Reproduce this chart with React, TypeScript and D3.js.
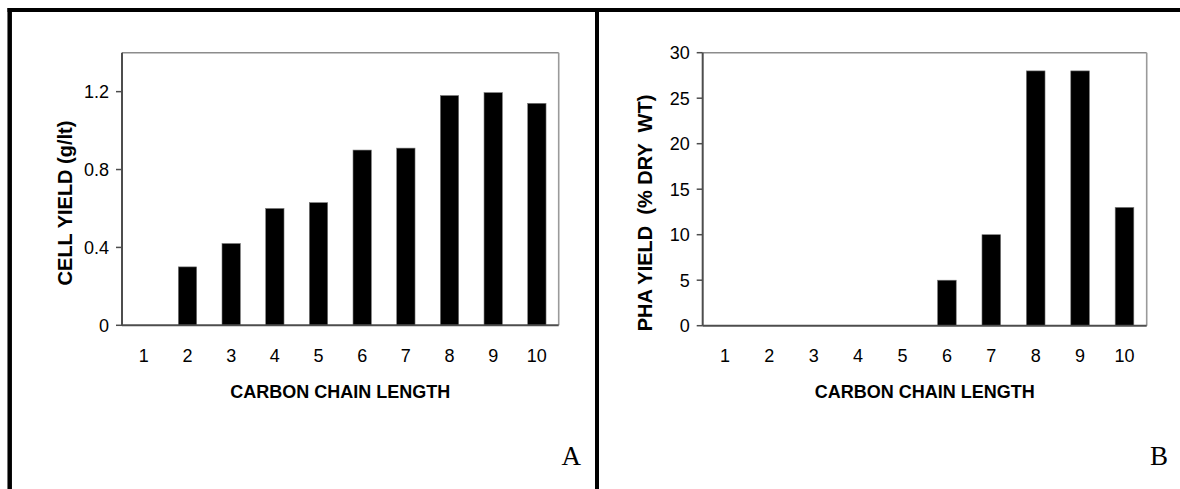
import React from "react";
import * as d3 from "d3";

const categories = ["1", "2", "3", "4", "5", "6", "7", "8", "9", "10"];
const cellYield = [0, 0.3, 0.42, 0.6, 0.63, 0.9, 0.91, 1.18, 1.195, 1.14];
const phaYield = [0, 0, 0, 0, 0, 5, 10, 28, 28, 13];
const cellTicks = [0, 0.4, 0.8, 1.2];
const phaTicks = [0, 5, 10, 15, 20, 25, 30];

const W = 1180;
const H = 489;

type PanelProps = {
  left: number;
  right: number;
  top: number;
  bottom: number;
  values: number[];
  ymax: number;
  ticks: number[];
  yTitle: string;
  yTitleX: number;
  yTitleY: number;
  letter: string;
  letterX: number;
};

function Panel(p: PanelProps) {
  const x = d3
    .scaleBand<string>()
    .domain(categories)
    .range([p.left, p.right])
    .paddingInner(0.58)
    .paddingOuter(0.29);
  const y = d3.scaleLinear().domain([0, p.ymax]).range([p.bottom, p.top]);
  const font = "'Liberation Sans', Arial, sans-serif";
  return (
    <g>
      {categories.map((c, i) =>
        p.values[i] > 0 ? (
          <rect
            key={c}
            x={x(c)}
            y={y(p.values[i])}
            width={x.bandwidth()}
            height={y(0) - y(p.values[i])}
            fill="#000"
            stroke="#777"
            strokeWidth={0.6}
          />
        ) : null
      )}
      {/* frame top & right */}
      <line x1={p.left} x2={p.right} y1={p.top} y2={p.top} stroke="#8c8c8c" strokeWidth={1.6} />
      <line x1={p.right} x2={p.right} y1={p.top} y2={p.bottom} stroke="#9a9a9a" strokeWidth={1.6} />
      {/* axes */}
      <line x1={p.left} x2={p.left} y1={p.top} y2={p.bottom} stroke="#4d4d4d" strokeWidth={2} />
      <line x1={p.left} x2={p.right} y1={p.bottom} y2={p.bottom} stroke="#4d4d4d" strokeWidth={2} />
      {p.ticks.map((t) => (
        <g key={t}>
          <line x1={p.left - 6} x2={p.left} y1={y(t)} y2={y(t)} stroke="#4d4d4d" strokeWidth={1.5} />
          <text
            x={p.left - 13}
            y={y(t)}
            dy="0.35em"
            textAnchor="end"
            fontFamily={font}
            fontSize={18}
            fill="#000"
          >
            {String(t)}
          </text>
        </g>
      ))}
      {categories.map((c) => (
        <text
          key={c}
          x={(x(c) as number) + x.bandwidth() / 2}
          y={362}
          textAnchor="middle"
          fontFamily={font}
          fontSize={18}
          fill="#000"
        >
          {c}
        </text>
      ))}
      <text
        x={(p.left + p.right) / 2}
        y={398}
        textAnchor="middle"
        fontFamily={font}
        fontSize={18}
        fontWeight="bold"
        fill="#000"
      >
        CARBON CHAIN LENGTH
      </text>
      <text
        transform={`translate(${p.yTitleX},${p.yTitleY}) rotate(-90)`}
        textAnchor="middle"
        dy="0.35em"
        fontFamily={font}
        fontSize={20}
        fontWeight="bold"
        fill="#000"
        style={{ whiteSpace: "pre" }}
      >
        {p.yTitle}
      </text>
      <text
        x={p.letterX}
        y={465}
        textAnchor="end"
        fontFamily="'Liberation Serif', 'Times New Roman', serif"
        fontSize={27}
        fill="#000"
      >
        {p.letter}
      </text>
    </g>
  );
}

export default function App() {
  return (
    <svg
      width={W}
      height={H}
      style={{ position: "absolute", left: 0, top: 0, background: "#fff" }}
    >
      <rect x={0} y={0} width={W} height={H} fill="#fff" />
      <line x1={7.5} x2={W} y1={10} y2={10} stroke="#000" strokeWidth={4} />
      <line x1={9.7} x2={9.7} y1={8} y2={H} stroke="#000" strokeWidth={4.5} />
      <line x1={597} x2={597} y1={8} y2={H} stroke="#000" strokeWidth={4} />
      <Panel
        left={122}
        right={558.7}
        top={52.7}
        bottom={325.3}
        values={cellYield}
        ymax={1.4}
        ticks={cellTicks}
        yTitle="CELL YIELD (g/lt)"
        yTitleX={65}
        yTitleY={203}
        letter="A"
        letterX={581}
      />
      <Panel
        left={702.7}
        right={1146.7}
        top={52.7}
        bottom={325.7}
        values={phaYield}
        ymax={30}
        ticks={phaTicks}
        yTitle="PHA YIELD  (% DRY  WT)"
        yTitleX={645}
        yTitleY={213}
        letter="B"
        letterX={1168}
      />
    </svg>
  );
}
